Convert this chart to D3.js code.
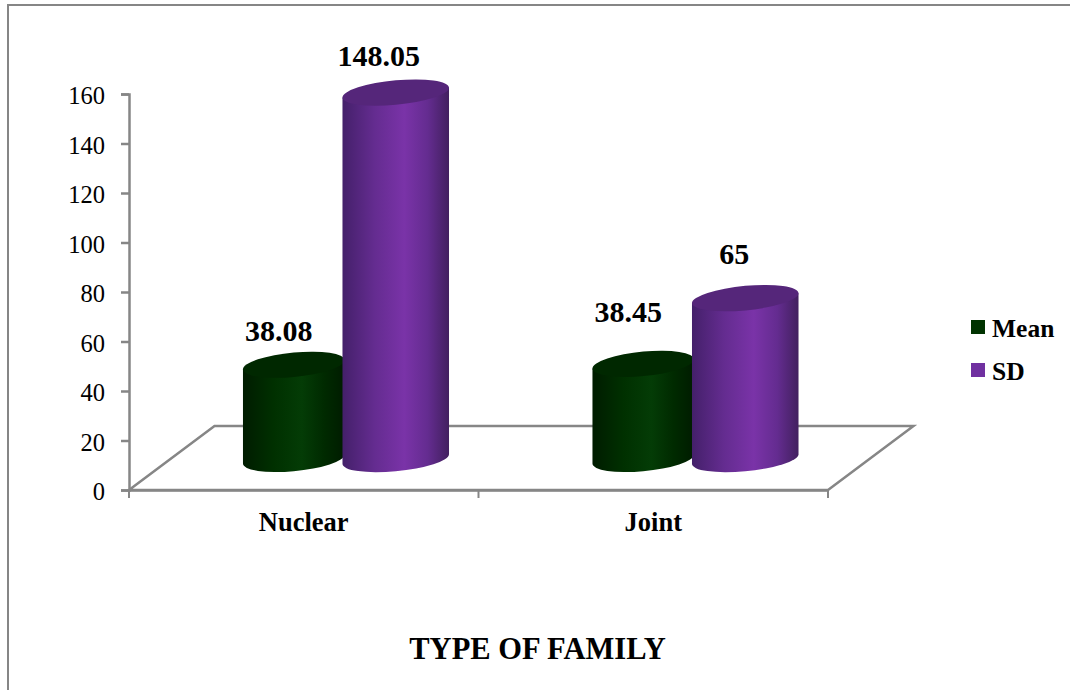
<!DOCTYPE html>
<html>
<head>
<meta charset="utf-8">
<style>
html, body { margin: 0; padding: 0; background: #fff; }
svg { display: block; }
text { font-family: "Liberation Serif", serif; fill: #000; }
</style>
</head>
<body>
<script src="https://cdnjs.cloudflare.com/ajax/libs/d3/7.8.5/d3.min.js"></script>
<script>

var categories = ["Nuclear", "Joint"];
var seriesNames = ["Mean", "SD"];
var meanValues = [38.08, 38.45];
var sdValues = [148.05, 65];
var valueLabels = [["38.08", "38.45"], ["148.05", "65"]];
var yTicks = [0, 20, 40, 60, 80, 100, 120, 140, 160];
var xTitle = "TYPE OF FAMILY";

var width = 1070,
    height = 690;

var gray = "#868686";

var svg = d3.select("body").append("svg")
    .attr("width", width)
    .attr("height", height);

var x = d3.scaleBand().domain(categories).range([129, 828]);
var y = d3.scaleLinear().domain([0, 160]).range([490, 94]);

// the floor is a parallelogram, pushed back by this much
var depthX = 85.5,
    depthY = 64;

var series = [
  {name: seriesNames[0], values: meanValues, id: "green", top: "#002800", swatch: "#003300",
   stops: ["#001c00", "#003000", "#043c06", "#002a00", "#001c00"], rx: 51, shift: -51},
  {name: seriesNames[1], values: sdValues, id: "purple", top: "#55267a", swatch: "#7030a0",
   stops: ["#44206a", "#642c90", "#7a33a8", "#642c90", "#42205f"], rx: 53.5, shift: 51}
];

var defs = svg.append("defs");
series.forEach(function(s) {
  var grad = defs.append("linearGradient").attr("id", s.id);
  var offsets = [0, 0.3, 0.58, 0.8, 1];
  s.stops.forEach(function(c, i) {
    grad.append("stop").attr("offset", offsets[i]).attr("stop-color", c);
  });
});

// chart area border, only top and left are inside the crop
svg.append("path")
    .attr("d", "M8,690V5H1070")
    .attr("fill", "none")
    .attr("stroke", gray)
    .attr("stroke-width", 2);

// floor
svg.append("path")
    .attr("d", "M" + x.range()[0] + "," + y(0) +
               "L" + (x.range()[0] + depthX) + "," + (y(0) - depthY) +
               "H" + (x.range()[1] + depthX) +
               "L" + x.range()[1] + "," + y(0) + "Z")
    .attr("fill", "#fff")
    .attr("stroke", gray)
    .attr("stroke-width", 2.5);

// y axis
var yAxis = svg.append("g")
    .attr("transform", "translate(129,0)")
    .call(d3.axisLeft(y).tickValues(yTicks).tickSize(8).tickPadding(16));
yAxis.selectAll("path, line").attr("stroke", gray).attr("stroke-width", 2.5);
yAxis.selectAll("text")
    .attr("font-size", 24.5)
    .attr("font-family", "Liberation Serif")
    .attr("fill", "#000")
    .attr("dy", "0.4em");

// x axis, ticks sit between the categories
var xAxis = svg.append("g")
    .attr("transform", "translate(0," + y(0) + ")")
    .call(d3.axisBottom(x).tickSize(0).tickPadding(22));
xAxis.select("path").attr("stroke", gray).attr("stroke-width", 2.5);
xAxis.selectAll("text")
    .attr("font-size", 26.5)
    .attr("font-weight", "bold")
    .attr("font-family", "Liberation Serif")
    .attr("fill", "#000");
xAxis.selectAll(".sep")
    .data([x.range()[0], x.range()[0] + x.step(), x.range()[1]])
  .enter().append("line")
    .attr("class", "sep")
    .attr("x1", function(d) { return d; })
    .attr("x2", function(d) { return d; })
    .attr("y2", 8)
    .attr("stroke", gray)
    .attr("stroke-width", 2);

// tilted ellipse: half width and the drop of the left/right tangent points
var tiltDeg = 5.5,
    tilt = tiltDeg * Math.PI / 180,
    ry = 12.2;

function cylinder(cx, yTop, yBase, rx) {
  var c = Math.cos(tilt), s = Math.sin(tilt);
  var w = Math.sqrt(rx * rx * c * c + ry * ry * s * s);
  var dy = (rx * rx - ry * ry) * s * c / w;
  var arc = "A" + rx + "," + ry + " " + (-tiltDeg) + " 0 ";
  return {
    body: "M" + (cx - w) + "," + (yTop + dy) +
          "L" + (cx - w) + "," + (yBase + dy) +
          arc + "0 " + (cx + w) + "," + (yBase - dy) +
          "L" + (cx + w) + "," + (yTop - dy) + "Z",
    top: "M" + (cx - w) + "," + (yTop + dy) +
         arc + "1 " + (cx + w) + "," + (yTop - dy) +
         arc + "1 " + (cx - w) + "," + (yTop + dy) + "Z"
  };
}

var baseShift = y(0) - 31;  // centre of the cylinder base on the floor

series.forEach(function(s) {
  var g = svg.append("g").selectAll("g")
      .data(s.values)
    .enter().append("g");

  function shape(d, i) {
    var cx = x(categories[i]) + x.bandwidth() / 2 + 41 + s.shift;
    return cylinder(cx, baseShift - (y(0) - y(d)), baseShift, s.rx);
  }

  g.append("path")
      .attr("d", function(d, i) { return shape(d, i).body; })
      .attr("fill", "url(#" + s.id + ")");
  g.append("path")
      .attr("d", function(d, i) { return shape(d, i).top; })
      .attr("fill", s.top);
});

// value labels, dragged by hand in the original so each has its own offset
var labelNudge = [[[-15, -24], [-15, -42]], [[-17, -27], [-11, -34]]];
series.forEach(function(s, si) {
  svg.append("g").selectAll("text")
      .data(s.values)
    .enter().append("text")
      .attr("x", function(d, i) {
        return x(categories[i]) + x.bandwidth() / 2 + 41 + s.shift + labelNudge[si][i][0];
      })
      .attr("y", function(d, i) {
        return baseShift - (y(0) - y(d)) + labelNudge[si][i][1];
      })
      .attr("text-anchor", "middle")
      .attr("font-size", 30)
      .attr("font-weight", "bold")
      .text(function(d, i) { return valueLabels[si][i]; });
});

// legend
var legend = svg.append("g").selectAll("g")
    .data(series)
  .enter().append("g")
    .attr("transform", function(d, i) { return "translate(971," + (320 + i * 43) + ")"; });
legend.append("rect")
    .attr("width", 14)
    .attr("height", 14)
    .attr("fill", function(d) { return d.swatch; });
legend.append("text")
    .attr("x", 21)
    .attr("y", 17)
    .attr("font-size", 25.5)
    .attr("font-weight", "bold")
    .text(function(d) { return d.name; });

// axis title
svg.append("text")
    .attr("x", 537.5)
    .attr("y", 659)
    .attr("text-anchor", "middle")
    .attr("font-size", 30.5)
    .attr("font-weight", "bold")
    .text(xTitle);

</script>
</body>
</html>
